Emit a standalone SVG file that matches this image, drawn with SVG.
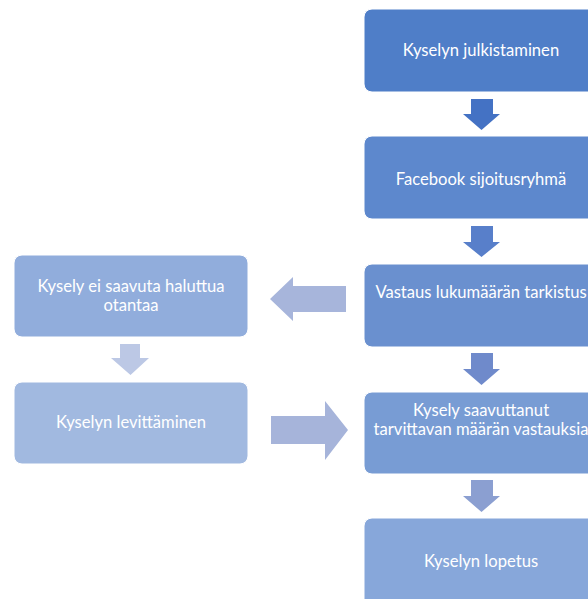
<svg xmlns="http://www.w3.org/2000/svg" width="588" height="599" viewBox="0 0 588 599">
<style>
.box{stroke:#ffffff;stroke-width:1}
.t{font-family:Lato,"Open Sans","Liberation Sans",sans-serif;font-size:16.6px;fill:#ffffff;text-anchor:middle}
</style>
<rect width="588" height="599" fill="#ffffff"/>
<g id="connectors">
<polygon points="471,99 493,99 493,114 500,114 481.5,130 463,114 471,114" fill="#4472C4"/>
<polygon points="471,226 493,226 493,242 500,242 481.5,257 463,242 471,242" fill="#587FCA"/>
<polygon points="471,353 493,353 493,369 500,369 481.5,385 463,369 471,369" fill="#6F8ACB"/>
<polygon points="471,480 493,480 493,496 500,496 481.5,512 463,496 471,496" fill="#8B9FD1"/>
<polygon points="346,286 346,312 293,312 293,321 270,299 293,277 293,286" fill="#A7B5DB"/>
<polygon points="120,344 140,344 140,358 149,358 130.5,375 111,358 120,358" fill="#BCC8E5"/>
<polygon points="271,416 271,444 325,444 325,460 348,430 325,401 325,416" fill="#A6B4DA"/>
</g>
<g id="n1"><rect class="box" x="364" y="9" width="234" height="83" rx="8" fill="#4F7EC8"/><text class="t" x="481" y="56">Kyselyn julkistaminen</text></g>
<g id="n2"><rect class="box" x="364" y="136" width="234" height="83" rx="8" fill="#5D88CD"/><text class="t" x="481" y="185">Facebook sijoitusryhmä</text></g>
<g id="n3"><rect class="box" x="364" y="264" width="234" height="83" rx="8" fill="#6A90CF"/><text class="t" x="481" y="298">Vastaus lukumäärän tarkistus</text></g>
<g id="n4"><rect class="box" x="364" y="392" width="234" height="82" rx="8" fill="#789CD4"/><text class="t" x="481" y="416">Kysely saavuttanut</text><text class="t" x="481" y="435">tarvittavan määrän vastauksia</text></g>
<g id="n5"><rect class="box" x="364" y="518" width="234" height="90" rx="8" fill="#87A7DA"/><text class="t" x="481" y="567">Kyselyn lopetus</text></g>
<g id="n6"><rect class="box" x="14" y="255" width="234" height="82" rx="8" fill="#91ADDC"/><text class="t" x="131" y="292">Kysely ei saavuta haluttua</text><text class="t" x="131" y="311">otantaa</text></g>
<g id="n7"><rect class="box" x="14" y="382" width="234" height="82" rx="8" fill="#A1B9E0"/><text class="t" x="131" y="428">Kyselyn levittäminen</text></g>
</svg>
